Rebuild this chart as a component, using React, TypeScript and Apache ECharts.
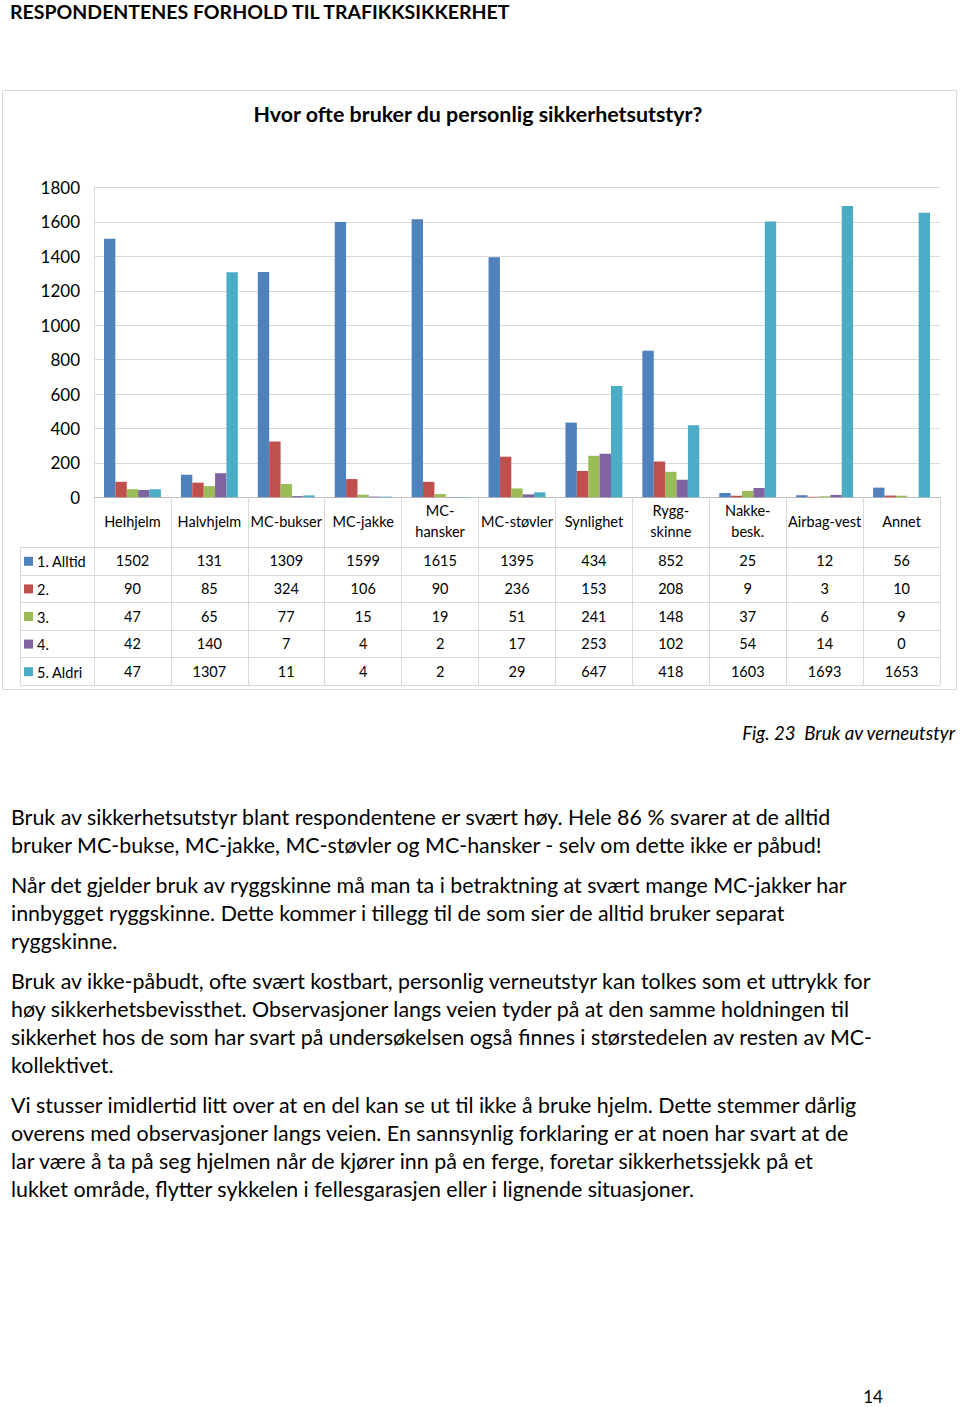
import React, { useEffect, useRef } from "react";
import * as echarts from "echarts";

const categories = ["Helhjelm", "Halvhjelm", "MC-bukser", "MC-jakke", "MC-\nhansker", "MC-støvler", "Synlighet", "Rygg-\nskinne", "Nakke-\nbesk.", "Airbag-vest", "Annet"];
const seriesNames = ["1. Alltid", "2.", "3.", "4.", "5. Aldri"];
const alltid = [1502, 131, 1309, 1599, 1615, 1395, 434, 852, 25, 12, 56];
const s2 = [90, 85, 324, 106, 90, 236, 153, 208, 9, 3, 10];
const s3 = [47, 65, 77, 15, 19, 51, 241, 148, 37, 6, 9];
const s4 = [42, 140, 7, 4, 2, 17, 253, 102, 54, 14, 0];
const aldri = [47, 1307, 11, 4, 2, 29, 647, 418, 1603, 1693, 1653];
const seriesValues = [alltid, s2, s3, s4, aldri];
const colors = ["#4F81BD", "#C0504D", "#9BBB59", "#8064A2", "#4BACC6"];
const yMin = 0;
const yMax = 1800;
const yStep = 200;

const heading = "RESPONDENTENES FORHOLD TIL TRAFIKKSIKKERHET";
const chartTitle = "Hvor ofte bruker du personlig sikkerhetsutstyr?";
const caption = "Fig. 23  Bruk av verneutstyr";
const pageNumber = "14";
const paragraphs = [
  [
    "Bruk av sikkerhetsutstyr blant respondentene er svært høy. Hele 86 % svarer at de alltid",
    "bruker MC-bukse, MC-jakke, MC-støvler og MC-hansker - selv om dette ikke er påbud!",
  ],
  [
    "Når det gjelder bruk av ryggskinne må man ta i betraktning at svært mange MC-jakker har",
    "innbygget ryggskinne. Dette kommer i tillegg til de som sier de alltid bruker separat",
    "ryggskinne.",
  ],
  [
    "Bruk av ikke-påbudt, ofte svært kostbart, personlig verneutstyr kan tolkes som et uttrykk for",
    "høy sikkerhetsbevissthet. Observasjoner langs veien tyder på at den samme holdningen til",
    "sikkerhet hos de som har svart på undersøkelsen også finnes i størstedelen av resten av MC-",
    "kollektivet.",
  ],
  [
    "Vi stusser imidlertid litt over at en del kan se ut til ikke å bruke hjelm. Dette stemmer dårlig",
    "overens med observasjoner langs veien. En sannsynlig forklaring er at noen har svart at de",
    "lar være å ta på seg hjelmen når de kjører inn på en ferge, foretar sikkerhetssjekk på et",
    "lukket område, flytter sykkelen i fellesgarasjen eller i lignende situasjoner.",
  ],
];

const FONT = "Lato, 'Open Sans', sans-serif";
const W = 960;
const H = 1407;

export default function App() {
  const ref = useRef<HTMLDivElement>(null);
  useEffect(() => {
    document.body.style.margin = "0";
    if (!ref.current) return;
    const chart = echarts.init(ref.current, null, { renderer: "svg" });
    const gridLeft = 94;
    const gridRight = 20;
    const gridTop = 187.5;
    const gridBottomY = 497.3;
    const tableTop = 547;
    const rowH = 27.6;
    const tableLeft = 20;
    const tableRight = W - gridRight;

    chart.setOption({
      animation: false,
      backgroundColor: "#ffffff",
      textStyle: { fontFamily: FONT },
      grid: { left: gridLeft, right: gridRight, top: gridTop, bottom: H - gridBottomY, containLabel: false },
      xAxis: {
        type: "category",
        data: categories,
        axisLine: { show: true, lineStyle: { color: "#bfbfbf", width: 1 } },
        axisTick: { show: true, length: tableTop + rowH * 5 - gridBottomY, lineStyle: { color: "#d9d9d9" } },
        axisLabel: { interval: 0, color: "#000", fontSize: 14.5, lineHeight: 21, verticalAlign: "middle", margin: 24, fontFamily: FONT },
      },
      yAxis: {
        type: "value",
        min: yMin,
        max: yMax,
        interval: yStep,
        axisLine: { show: true, lineStyle: { color: "#d9d9d9" } },
        axisTick: { show: false },
        splitLine: { lineStyle: { color: "#d9d9d9" } },
        axisLabel: { color: "#000", fontSize: 17, margin: 14, fontFamily: FONT, formatter: (v: number) => String(v) },
      },
      series: seriesValues.map((vals, i) => ({
        type: "bar",
        name: seriesNames[i],
        data: vals,
        barGap: "0%",
        barCategoryGap: "26%",
        itemStyle: { color: colors[i] },
      })),
    });

    const graphics: any[] = [];
    graphics.push({ type: "rect", shape: { x: 2.5, y: 90.5, width: 954, height: 599 }, style: { fill: "none", stroke: "#d9d9d9", lineWidth: 1 }, z: -1 });
    graphics.push({ type: "text", x: 10, y: 11, style: { text: heading, fontFamily: FONT, fontSize: 19.5, fontWeight: "bold", fill: "#000", textAlign: "left", textVerticalAlign: "middle" } });
    graphics.push({ type: "text", x: 478, y: 114, style: { text: chartTitle, fontFamily: FONT, fontSize: 21.4, fontWeight: "bold", fill: "#000", textAlign: "center", textVerticalAlign: "middle" } });
    for (let k = 0; k <= 5; k++) {
      const y = Math.round(tableTop + k * rowH) + 0.5;
      graphics.push({ type: "line", shape: { x1: tableLeft, y1: y, x2: tableRight, y2: y }, style: { stroke: "#d9d9d9", lineWidth: 1 } });
    }
    graphics.push({ type: "line", shape: { x1: tableLeft + 0.5, y1: tableTop, x2: tableLeft + 0.5, y2: tableTop + rowH * 5 }, style: { stroke: "#d9d9d9", lineWidth: 1 } });
    seriesValues.forEach((vals, r) => {
      const cy = tableTop + rowH * (r + 0.5);
      graphics.push({ type: "rect", shape: { x: 24, y: cy - 4, width: 9, height: 9 }, style: { fill: colors[r] } });
      graphics.push({ type: "text", x: 37, y: cy + 1, style: { text: seriesNames[r], fontFamily: FONT, fontSize: 14.5, fill: "#000", textAlign: "left", textVerticalAlign: "middle" } });
      vals.forEach((v, i) => {
        const px = chart.convertToPixel({ xAxisIndex: 0 }, i) as number;
        graphics.push({ type: "text", x: px, y: cy, style: { text: String(v), fontFamily: FONT, fontSize: 14.5, fill: "#000", textAlign: "center", textVerticalAlign: "middle" } });
      });
    });
    graphics.push({ type: "text", x: 955, y: 733, style: { text: caption, fontFamily: FONT, fontSize: 18.6, fontStyle: "italic", fill: "#000", textAlign: "right", textVerticalAlign: "middle" } });
    let y = 817;
    paragraphs.forEach((lines) => {
      lines.forEach((line) => {
        graphics.push({ type: "text", x: 11, y, style: { text: line, fontFamily: FONT, fontSize: 21.4, fill: "#000", textAlign: "left", textVerticalAlign: "middle" } });
        y += 28;
      });
      y += 12;
    });
    graphics.push({ type: "text", x: 873, y: 1396, style: { text: pageNumber, fontFamily: FONT, fontSize: 17, fill: "#000", textAlign: "center", textVerticalAlign: "middle" } });

    chart.setOption({ graphic: graphics });
    return () => chart.dispose();
  }, []);
  return <div ref={ref} style={{ width: W, height: H }} />;
}
